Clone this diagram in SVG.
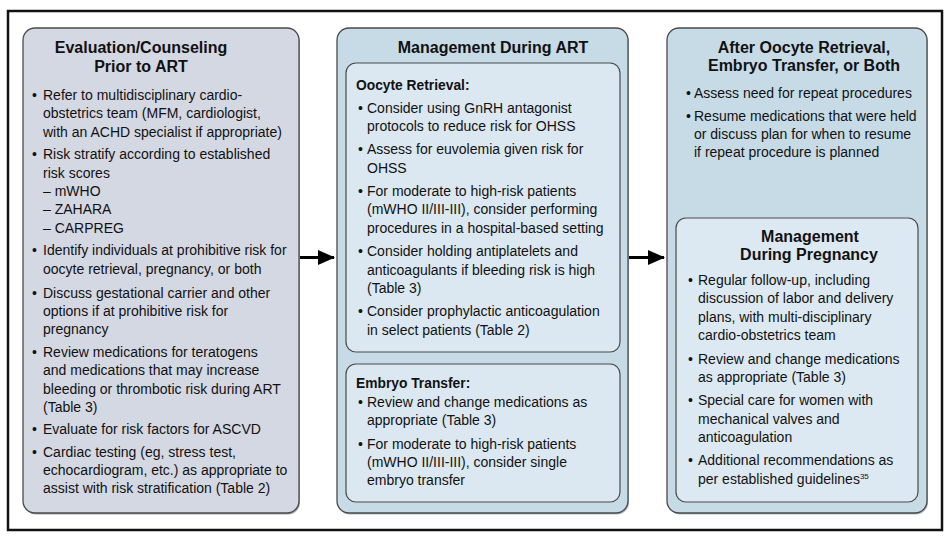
<svg xmlns="http://www.w3.org/2000/svg" width="949" height="542" viewBox="0 0 949 542">
<defs>
<marker id="ah" viewBox="0 0 17 15" refX="16" refY="7.5" markerWidth="17" markerHeight="15" markerUnits="userSpaceOnUse" orient="auto"><path d="M0,0 L17,7.5 L0,15 Z" fill="#000"/></marker>
</defs>
<style>
text{font-family:"Liberation Sans",Arial,sans-serif;fill:#111}
.t{font-size:16px;font-weight:bold;text-anchor:middle}
.h{font-size:13.8px;font-weight:bold}
.b{font-size:14px}
.panel{stroke:#4a4a4a;stroke-width:1.3}
.inner{stroke:#4a4a4a;stroke-width:1.2}
.shadow{fill:#a9bccb}
.conn{stroke:#000;stroke-width:3;fill:none}
</style>
<rect x="8" y="11" width="934" height="519" fill="#fff" stroke="#111" stroke-width="2.5"/>

<g id="evaluation">
<rect x="24" y="29.5" width="276" height="485" rx="12" fill="#a3a8b4"/>
<rect class="panel" x="23" y="28" width="276" height="485" rx="12" fill="#d4d8e3"/>
<text class="t" x="141" y="53">Evaluation/Counseling</text>
<text class="t" x="141" y="72">Prior to ART</text>
<text class="b" x="32" y="100">•</text>
<text class="b" x="43" y="100">Refer to multidisciplinary cardio-</text>
<text class="b" x="43" y="118.3">obstetrics team (MFM, cardiologist,</text>
<text class="b" x="43" y="136.6">with an ACHD specialist if appropriate)</text>
<text class="b" x="32" y="159.4">•</text>
<text class="b" x="43" y="159.4">Risk stratify according to established</text>
<text class="b" x="43" y="177.7">risk scores</text>
<text class="b" x="43" y="196">– mWHO</text>
<text class="b" x="43" y="214.3">– ZAHARA</text>
<text class="b" x="43" y="232.6">– CARPREG</text>
<text class="b" x="32" y="255.4">•</text>
<text class="b" x="43" y="255.4">Identify individuals at prohibitive risk for</text>
<text class="b" x="43" y="273.7">oocyte retrieval, pregnancy, or both</text>
<text class="b" x="32" y="297.5">•</text>
<text class="b" x="43" y="297.5">Discuss gestational carrier and other</text>
<text class="b" x="43" y="315.8">options if at prohibitive risk for</text>
<text class="b" x="43" y="334.1">pregnancy</text>
<text class="b" x="32" y="356.9">•</text>
<text class="b" x="43" y="356.9">Review medications for teratogens</text>
<text class="b" x="43" y="375.2">and medications that may increase</text>
<text class="b" x="43" y="393.5">bleeding or thrombotic risk during ART</text>
<text class="b" x="43" y="411.8">(Table 3)</text>
<text class="b" x="32" y="434.2">•</text>
<text class="b" x="43" y="434.2">Evaluate for risk factors for ASCVD</text>
<text class="b" x="32" y="456.6">•</text>
<text class="b" x="43" y="456.6">Cardiac testing (eg, stress test,</text>
<text class="b" x="43" y="474.9">echocardiogram, etc.) as appropriate to</text>
<text class="b" x="43" y="493.2">assist with risk stratification (Table 2)</text>
</g>

<g id="management-art">
<rect x="338" y="29.5" width="291" height="485" rx="12" class="shadow"/>
<rect class="panel" x="337" y="28" width="291" height="485" rx="12" fill="#c7dbe7"/>
<text class="t" x="493" y="53">Management During ART</text>
</g>

<g id="oocyte-retrieval">
<rect class="inner" x="346" y="63" width="274" height="289" rx="10" fill="#dbe8f1"/>
<text class="h" x="356" y="90">Oocyte Retrieval:</text>
<text class="b" x="358" y="112.5">•</text>
<text class="b" x="367" y="112.5">Consider using GnRH antagonist</text>
<text class="b" x="367" y="130.8">protocols to reduce risk for OHSS</text>
<text class="b" x="358" y="154.3">•</text>
<text class="b" x="367" y="154.3">Assess for euvolemia given risk for</text>
<text class="b" x="367" y="172.6">OHSS</text>
<text class="b" x="358" y="196.1">•</text>
<text class="b" x="367" y="196.1">For moderate to high-risk patients</text>
<text class="b" x="367" y="214.4">(mWHO II/III-III), consider performing</text>
<text class="b" x="367" y="232.7">procedures in a hospital-based setting</text>
<text class="b" x="358" y="256.2">•</text>
<text class="b" x="367" y="256.2">Consider holding antiplatelets and</text>
<text class="b" x="367" y="274.5">anticoagulants if bleeding risk is high</text>
<text class="b" x="367" y="292.8">(Table 3)</text>
<text class="b" x="358" y="316.3">•</text>
<text class="b" x="367" y="316.3">Consider prophylactic anticoagulation</text>
<text class="b" x="367" y="334.6">in select patients (Table 2)</text>
</g>

<g id="embryo-transfer">
<rect class="inner" x="346" y="364" width="274" height="138" rx="10" fill="#dbe8f1"/>
<text class="h" x="356" y="388">Embryo Transfer:</text>
<text class="b" x="358" y="407">•</text>
<text class="b" x="367" y="407">Review and change medications as</text>
<text class="b" x="367" y="425.3">appropriate (Table 3)</text>
<text class="b" x="358" y="448.6">•</text>
<text class="b" x="367" y="448.6">For moderate to high-risk patients</text>
<text class="b" x="367" y="466.9">(mWHO II/III-III), consider single</text>
<text class="b" x="367" y="485.2">embryo transfer</text>
</g>

<g id="after-retrieval">
<rect x="668" y="29.5" width="260" height="485" rx="12" class="shadow"/>
<rect class="panel" x="667" y="28" width="260" height="485" rx="12" fill="#c7dbe7"/>
<text class="t" x="804" y="52.7">After Oocyte Retrieval,</text>
<text class="t" x="804" y="70.7">Embryo Transfer, or Both</text>
<text class="b" x="686" y="97.7">•</text>
<text class="b" x="694" y="97.7">Assess need for repeat procedures</text>
<text class="b" x="686" y="120.7">•</text>
<text class="b" x="694" y="120.7">Resume medications that were held</text>
<text class="b" x="694" y="139">or discuss plan for when to resume</text>
<text class="b" x="694" y="157.3">if repeat procedure is planned</text>
</g>

<g id="management-pregnancy">
<rect class="inner" x="676" y="218" width="242" height="284" rx="10" fill="#dde9f2"/>
<text class="t" x="810" y="241.7">Management</text>
<text class="t" x="809" y="260">During Pregnancy</text>
<text class="b" x="688" y="285">•</text>
<text class="b" x="698" y="285">Regular follow-up, including</text>
<text class="b" x="698" y="303.3">discussion of labor and delivery</text>
<text class="b" x="698" y="321.6">plans, with multi-disciplinary</text>
<text class="b" x="698" y="339.9">cardio-obstetrics team</text>
<text class="b" x="688" y="363.5">•</text>
<text class="b" x="698" y="363.5">Review and change medications</text>
<text class="b" x="698" y="381.8">as appropriate (Table 3)</text>
<text class="b" x="688" y="405.2">•</text>
<text class="b" x="698" y="405.2">Special care for women with</text>
<text class="b" x="698" y="423.5">mechanical valves and</text>
<text class="b" x="698" y="441.8">anticoagulation</text>
<text class="b" x="688" y="465.2">•</text>
<text class="b" x="698" y="465.2">Additional recommendations as</text>
<text class="b" x="698" y="483.5">per established guidelines<tspan font-size="8" dy="-5">35</tspan></text>
</g>

<g id="connectors">
<line class="conn" x1="300" y1="257.5" x2="334" y2="257.5" marker-end="url(#ah)"/>
<line class="conn" x1="629" y1="257.5" x2="664" y2="257.5" marker-end="url(#ah)"/>
</g>
</svg>
